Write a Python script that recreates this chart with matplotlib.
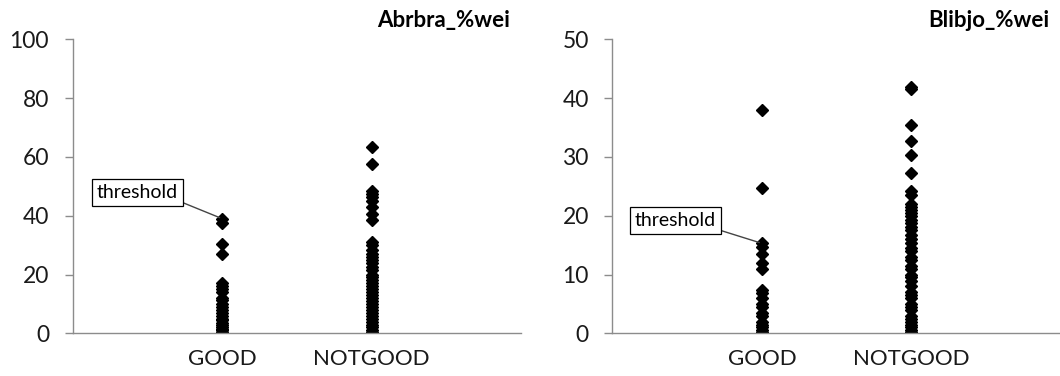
import matplotlib.pyplot as plt
import numpy as np

plt.rcParams['font.family'] = ['Lato', 'DejaVu Sans']

categories = ['GOOD', 'NOTGOOD']

abrbra_good = [39, 37.5, 30.5, 27, 17, 16, 15, 14, 12, 11.5, 10, 9, 8, 7, 6,
               5, 4.5, 3.5, 3, 2, 1.5, 1, 0.5, 0.2, 0]
abrbra_notgood = [63.5, 57.5, 48.5, 47.5, 46.5, 45, 43, 40.5, 38.5, 31, 30,
                  28.5, 27, 26, 25, 24, 22.5, 21.5, 20, 19, 18, 17, 16, 15,
                  14, 13, 12, 11, 10, 9, 8, 7, 6, 5, 4, 3, 2, 1, 0.5, 0]
abrbra_threshold = 39

blibjo_good = [38, 24.7, 15.3, 14.6, 13.5, 12, 11, 7.4, 6.8, 6, 5, 4.5, 3.5,
               3, 2, 1.5, 1, 0.5, 0.2, 0]
blibjo_notgood = [41.9, 41.5, 35.5, 32.7, 30.3, 27.2, 24.2, 23.6, 22, 21.5,
                  21, 20.5, 20, 19.3, 18.7, 18, 17.5, 16.8, 16, 15.3, 14.5,
                  14, 13, 12.5, 11.5, 11, 10, 9.5, 8.9, 8, 7, 6.5, 6, 5, 4.5,
                  4, 3, 2.5, 2, 1.5, 1, 0.5, 0.2, 0]
blibjo_threshold = 15.3

fig = plt.figure(figsize=(10.6, 3.76), dpi=100)
ax1 = fig.add_axes([0.0686, 0.1135, 0.4229, 0.782])
ax2 = fig.add_axes([0.5778, 0.1135, 0.4229, 0.782])

grey = '#8c8c8c'

def draw(ax, good, notgood, ymax, step, title, thr, box_xy):
    ax.plot(np.full(len(good), 1), good, linestyle='none', marker='D',
            markersize=6, color='black')
    ax.plot(np.full(len(notgood), 2), notgood, linestyle='none', marker='D',
            markersize=6, color='black')
    ax.set_xlim(0, 3)
    ax.set_ylim(0, ymax)
    ax.set_yticks(np.arange(0, ymax + 1, step))
    ax.set_xticks([1, 2])
    ax.set_xticklabels(categories)
    for s in ['top', 'right']:
        ax.spines[s].set_visible(False)
    for s in ['left', 'bottom']:
        ax.spines[s].set_color(grey)
        ax.spines[s].set_linewidth(1)
    ax.tick_params(axis='y', length=6, width=1, color=grey, pad=11,
                   labelsize=16.5, labelcolor='#1a1a1a')
    ax.tick_params(axis='x', length=0, pad=11, labelsize=16,
                   labelcolor='#1a1a1a')
    ax.set_title(title, loc='right', fontsize=16, fontweight='bold', pad=9,
                 y=1.0, x=0.975)
    ax.annotate('threshold', xy=(1, thr), xytext=box_xy, fontsize=14,
                ha='center', va='center',
                bbox=dict(boxstyle='square,pad=0.25', fc='white', ec='black',
                          lw=0.9),
                arrowprops=dict(arrowstyle='-', color='#444444', lw=1,
                                relpos=(1, 0), shrinkA=0, shrinkB=2))

draw(ax1, abrbra_good, abrbra_notgood, 100, 20, 'Abrbra_%wei',
     abrbra_threshold, (0.433, 48))
draw(ax2, blibjo_good, blibjo_notgood, 50, 10, 'Blibjo_%wei',
     blibjo_threshold, (0.42, 19.2))

fig.savefig('out.png', dpi=100)
